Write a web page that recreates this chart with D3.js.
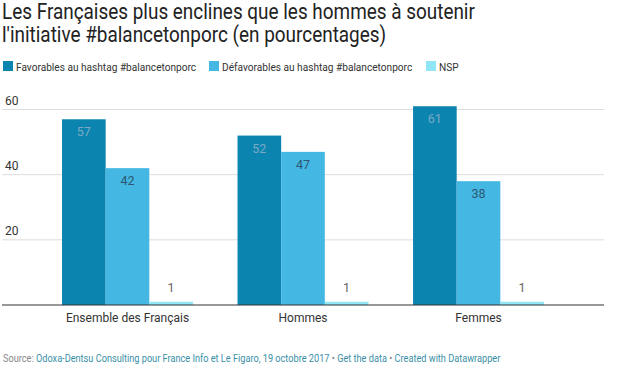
<!DOCTYPE html>
<html>
<head>
<meta charset="utf-8">
<script src="https://cdn.jsdelivr.net/npm/d3@7"></script>
<style>
  body { margin: 0; background: #fff; }
  svg { font-family: Roboto, sans-serif; }
</style>
</head>
<body>
<svg id="chart" width="617" height="372"></svg>
<script>
const categories = ["Ensemble des Français", "Hommes", "Femmes"]
const seriesNames = ["Favorables au hashtag #balancetonporc", "Défavorables au hashtag #balancetonporc", "NSP"]
const favorables = [57, 52, 61]
const defavorables = [42, 47, 38]
const nsp = [1, 1, 1]
const yTicks = [20, 40, 60]

const colors = ["#0c84b0", "#44b7e3", "#8fe6f4"]
const labelColors = ["#7aa9c4", "#2c5872", "#666"]

const svg = d3.select("#chart")
const series = [favorables, defavorables, nsp]

// squeezed text, the screenshot is narrower than plain Roboto
const squeezed = (x, y, size, color, str, sx = 0.88) =>
    svg.append("text").attr("transform", `translate(${x},${y}) scale(${sx},1)`)
        .attr("font-size", size).attr("fill", color).text(str)

// title
squeezed(2, 19, 21.5, "#222", "Les Françaises plus enclines que les hommes à soutenir")
squeezed(2, 42, 21.5, "#222", "l'initiative #balancetonporc (en pourcentages)")

// legend
const legendX = [3, 209, 426]
seriesNames.forEach((name, i) => {
    svg.append("rect").attr("x", legendX[i]).attr("y", 61).attr("width", 10).attr("height", 10)
        .attr("fill", colors[i])
    squeezed(legendX[i] + 13, 70.5, 11.5, "#333", name)
})

const x0 = 2, x1 = 604
const x = d3.scaleBand().domain(categories).range([x0, x1]).paddingInner(0.254).paddingOuter(0.342)
const xs = d3.scaleBand().domain(d3.range(3)).range([0, x.bandwidth()])
const y = d3.scaleLinear().domain([0, 60]).range([305, 109.5])

// gridlines + tick labels
const grid = svg.append("g")
yTicks.forEach(t => {
    grid.append("line").attr("x1", x0).attr("x2", x1).attr("y1", y(t)).attr("y2", y(t))
        .attr("stroke", "#ddd").attr("stroke-width", 1)
    grid.append("text").attr("x", 5).attr("y", y(t) - 5)
        .attr("font-size", 12).attr("fill", "#333").text(t)
})

// bars
const groups = svg.append("g").selectAll("g").data(categories).join("g")
    .attr("transform", d => `translate(${x(d)},0)`)

groups.selectAll("rect")
    .data((d, gi) => series.map((s, si) => ({ si, v: s[gi] })))
    .join("rect")
    .attr("x", d => xs(d.si))
    .attr("width", xs.bandwidth())
    .attr("y", d => y(d.v))
    .attr("height", d => y(0) - y(d.v))
    .attr("fill", d => colors[d.si])

groups.selectAll("text.val")
    .data((d, gi) => series.map((s, si) => ({ si, v: s[gi] })))
    .join("text")
    .attr("class", "val")
    .attr("x", d => xs(d.si) + xs.bandwidth() / 2)
    .attr("y", d => d.v > 5 ? y(d.v) + 17 : y(d.v) - 10)
    .attr("text-anchor", "middle")
    .attr("font-size", 12.5)
    .attr("fill", d => labelColors[d.si])
    .text(d => d.v)

// baseline
svg.append("line").attr("x1", x0).attr("x2", x1).attr("y1", y(0)).attr("y2", y(0))
    .attr("stroke", "#333").attr("stroke-width", 1.2)

// x axis labels
categories.forEach(c => {
    svg.append("text").attr("x", x(c) + x.bandwidth() / 2).attr("y", 322)
        .attr("text-anchor", "middle").attr("font-size", 12).attr("fill", "#333").text(c)
})

// footer
const foot = squeezed(3, 362, 11, null, null, 0.835)
const parts = [
    ["Source: ", "#888"],
    ["Odoxa-Dentsu Consulting pour France Info et Le Figaro, 19 octobre 2017", "#3a8fa6"],
    [" • ", "#888"],
    ["Get the data", "#3a8fa6"],
    [" • ", "#888"],
    ["Created with Datawrapper", "#3a8fa6"]
]
parts.forEach(([t, c]) => foot.append("tspan").attr("fill", c).text(t))
</script>
</body>
</html>
